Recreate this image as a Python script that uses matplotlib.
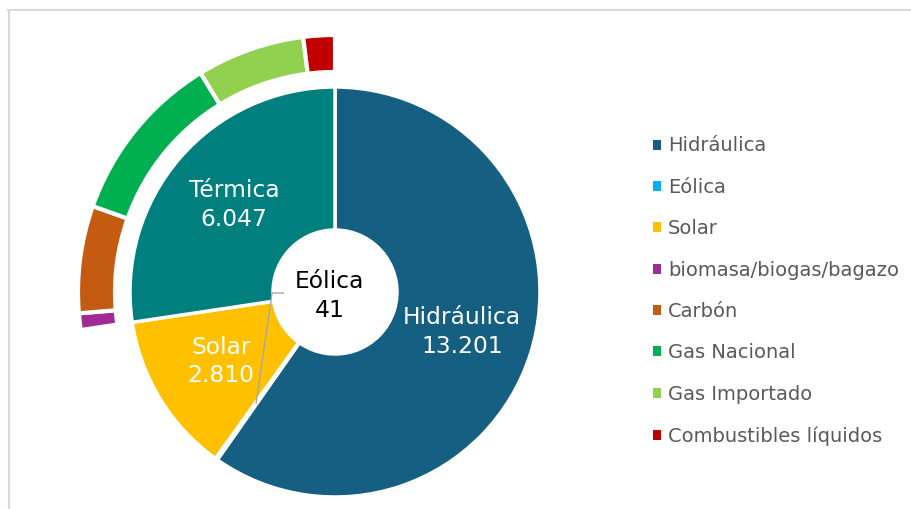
import matplotlib.pyplot as plt
import numpy as np
from matplotlib.lines import Line2D
from matplotlib.patches import Patch

# Capacidad instalada (MW)
fuentes = ['Hidráulica', 'Eólica', 'Solar', 'Térmica']
capacidad = [13201, 41, 2810, 6047]
colores = ['#156082', '#00B0F0', '#FFC000', '#007F7F']

termica = ['biomasa/biogas/bagazo', 'Carbón', 'Gas Nacional', 'Gas Importado', 'Combustibles líquidos']
cap_termica = [230, 1490, 2390, 1500, 437]
col_termica = ['#A02B93', '#C55A11', '#00B050', '#92D050', '#C00000']

W, H = 911, 509
fig = plt.figure(figsize=(W / 100, H / 100), dpi=100)

# pie axes centred at pixel (335, 292), outer radius 257 px -> 1.0
R_PX = 257
half = 300
ax = fig.add_axes([(335 - half) / W, (H - 292 - half) / H, 2 * half / W, 2 * half / H])

r_in = 205 / R_PX
r_hole = 62 / R_PX
r_ring = 220 / R_PX

wedges, _ = ax.pie(capacidad, colors=colores, radius=r_in, startangle=90, counterclock=False,
                   wedgeprops=dict(width=r_in - r_hole, edgecolor='white', linewidth=2.5))

# outer ring: only the thermal breakdown is visible
oculto = sum(capacidad[:3])
ring, _ = ax.pie([oculto] + cap_termica, colors=['none'] + col_termica, radius=1.0,
                 startangle=90, counterclock=False,
                 wedgeprops=dict(width=1.0 - r_ring, edgecolor='white', linewidth=3))
ring[0].set_edgecolor('none')

ax.set_xlim(-half / R_PX, half / R_PX)
ax.set_ylim(-half / R_PX, half / R_PX)
ax.set_aspect('equal')
ax.axis('off')

def fmt(v):
    return f"{v:,}".replace(",", ".")

r_mid = (r_in + r_hole) / 2
for w, name, v in zip(wedges, fuentes, capacidad):
    if name == 'Eólica':
        continue
    ang = np.deg2rad((w.theta1 + w.theta2) / 2)
    ax.text(r_mid * np.cos(ang), r_mid * np.sin(ang), f"{name}\n{fmt(v)}",
            ha='center', va='center', color='white', fontsize=16.8, linespacing=1.3)

# Eólica label in the hole with leader line
w = wedges[1]
ang = np.deg2rad((w.theta1 + w.theta2) / 2)
px, py = 0.53 * np.cos(ang), 0.53 * np.sin(ang)
ax.text(-0.02, -0.016, f"Eólica\n{fmt(capacidad[1])}", ha='center', va='center',
        color='#000000', fontsize=16.8, linespacing=1.3)
ax.plot([px, -0.245, -0.20], [py, -0.004, -0.004], color='#A6A6A6', lw=1)

# legend
handles = [Patch(facecolor=c) for c in colores[:3] + col_termica]
labels = fuentes[:3] + termica
fig.legend(handles, labels, loc='center left', bbox_to_anchor=(653 / W, (H - 291) / H),
           frameon=False, borderpad=0, borderaxespad=0, handlelength=0.42, handleheight=0.42,
           handletextpad=0.35, labelspacing=1.15, prop={'size': 14}, labelcolor='#595959')

# chart border
fig.add_artist(Line2D([8 / W, 1], [1 - 10 / H, 1 - 10 / H], color='#D9D9D9', lw=1.5,
                      transform=fig.transFigure))
fig.add_artist(Line2D([9 / W, 9 / W], [0, 1 - 10 / H], color='#D9D9D9', lw=1.5,
                      transform=fig.transFigure))

fig.savefig('out.png', dpi=100)
